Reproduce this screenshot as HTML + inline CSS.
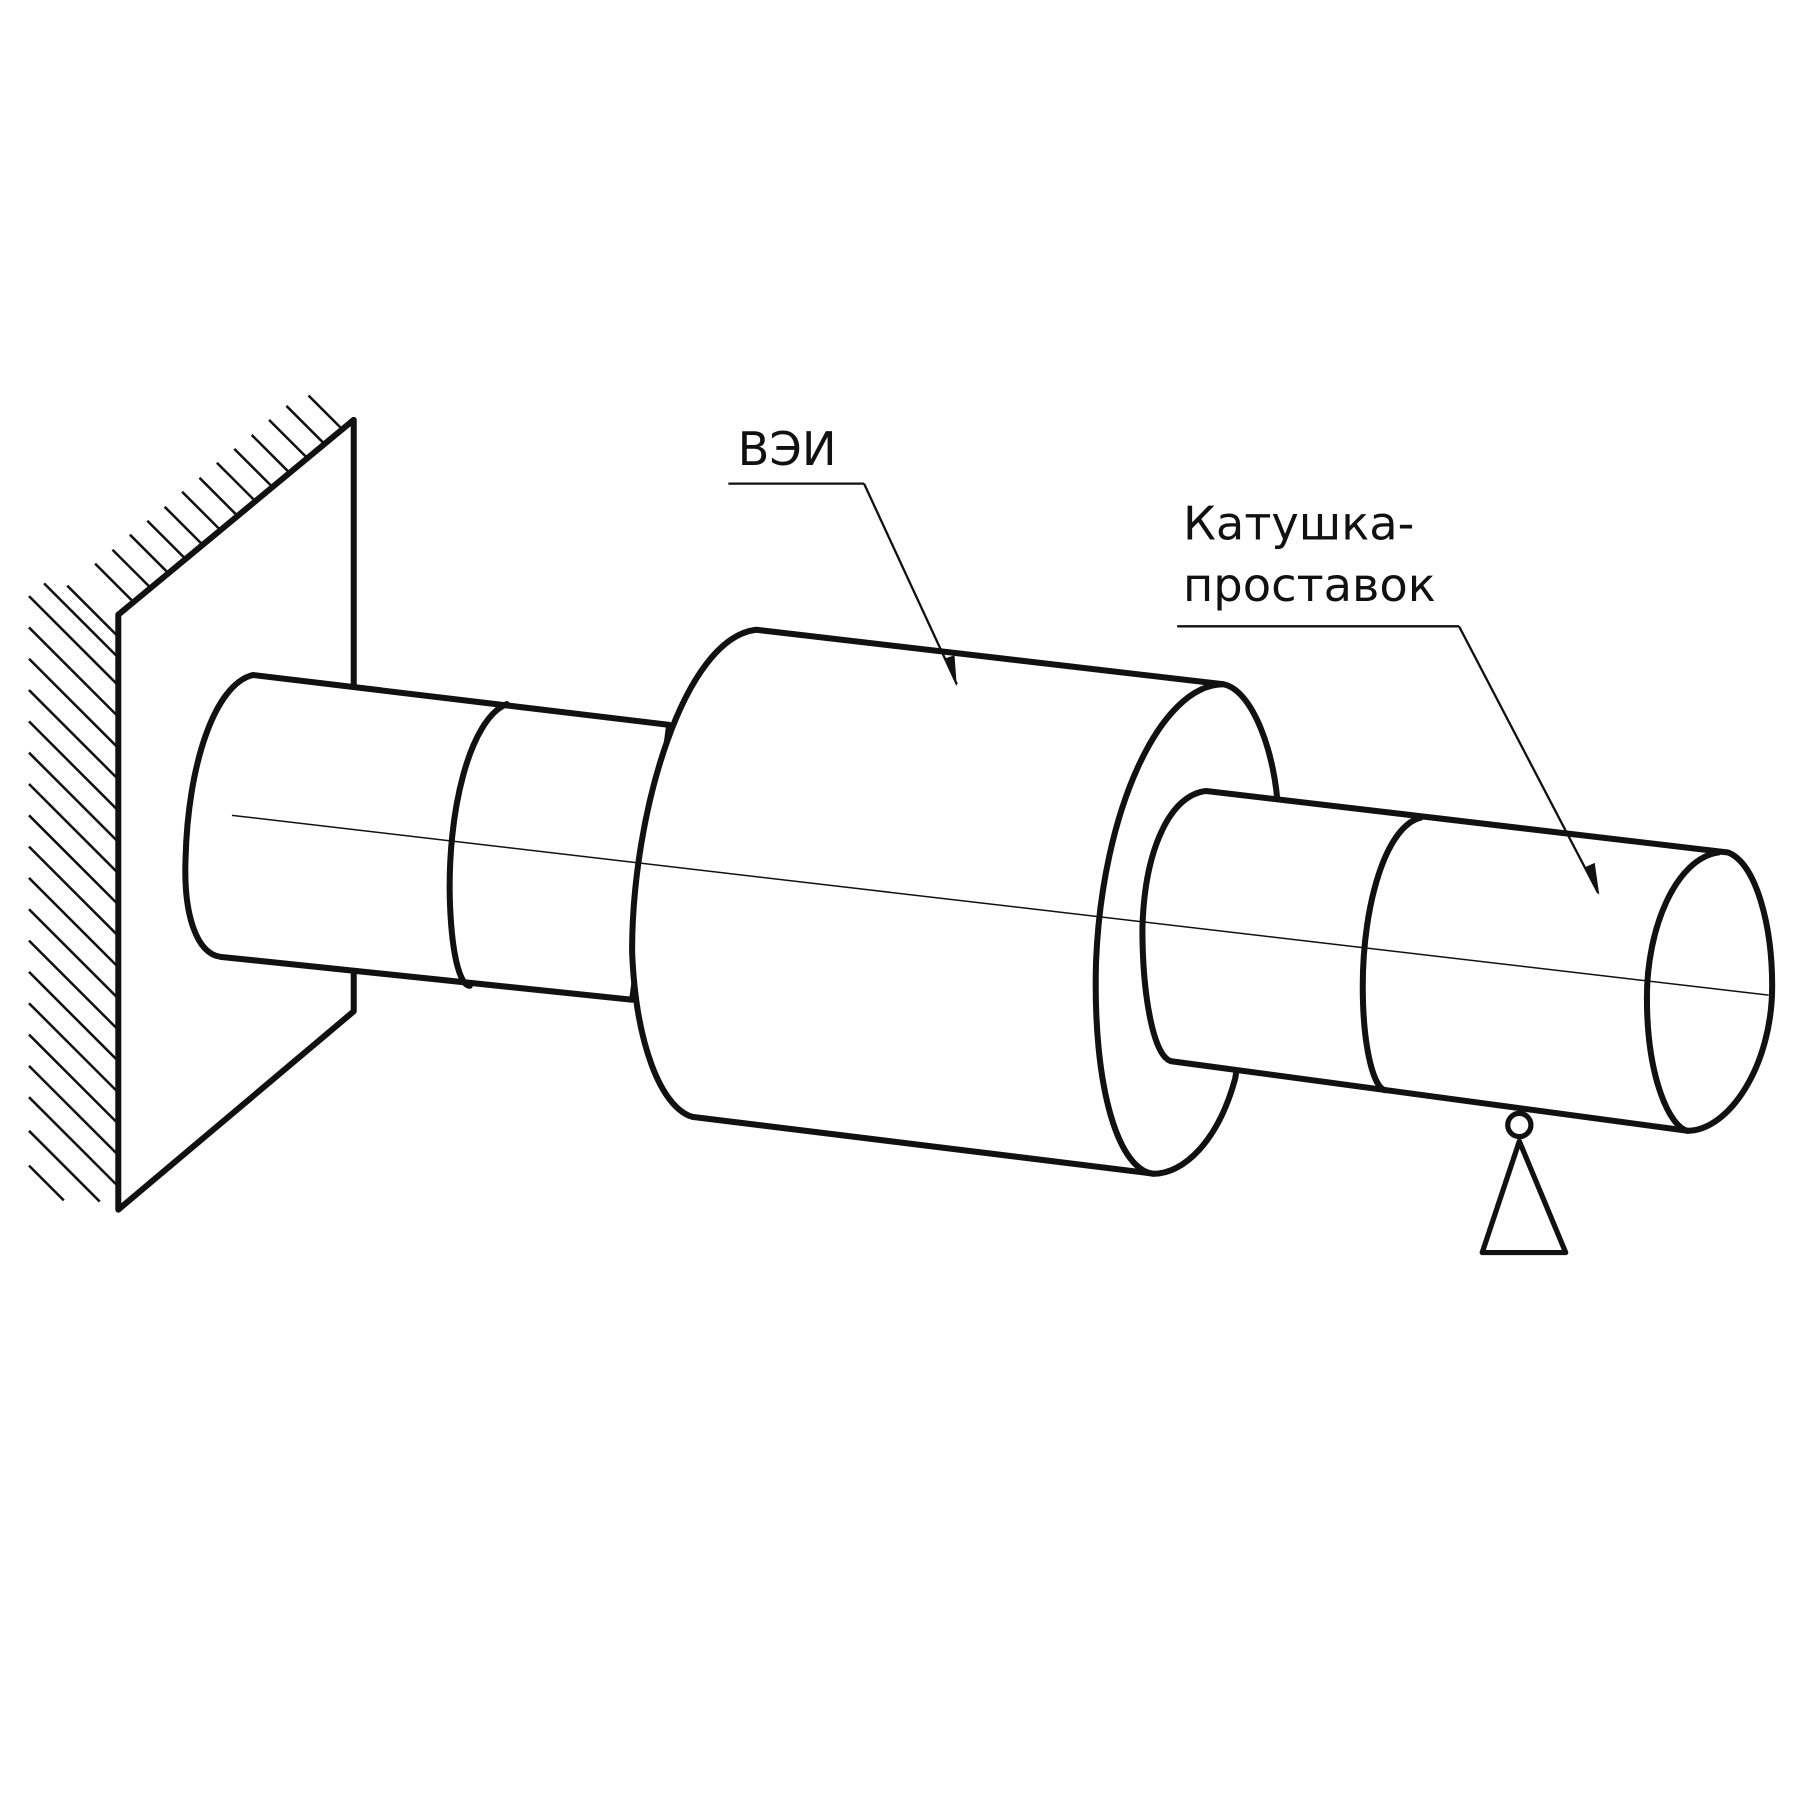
<!DOCTYPE html>
<html><head><meta charset="utf-8"><style>
html,body{margin:0;padding:0;background:#fff;}
svg{display:block;}
text{font-family:"DejaVu Sans","Liberation Sans",sans-serif;fill:#111;font-weight:500;}
</style></head><body>
<svg width="1800" height="1800" viewBox="0 0 1552 1552" xmlns="http://www.w3.org/2000/svg">
<rect width="1552" height="1552" fill="#fff"/>
<g stroke="#111" stroke-width="2.2">
<line x1="82" y1="486" x2="115" y2="519"/>
<line x1="97" y1="474" x2="130" y2="507"/>
<line x1="112" y1="461" x2="145" y2="494"/>
<line x1="127" y1="449" x2="160" y2="482"/>
<line x1="142" y1="437" x2="175" y2="470"/>
<line x1="157" y1="424" x2="190" y2="457"/>
<line x1="172" y1="412" x2="205" y2="445"/>
<line x1="187" y1="399" x2="220" y2="432"/>
<line x1="202" y1="387" x2="235" y2="420"/>
<line x1="217" y1="375" x2="250" y2="408"/>
<line x1="232" y1="362" x2="265" y2="395"/>
<line x1="247" y1="350" x2="280" y2="383"/>
<line x1="266" y1="341" x2="295" y2="370"/>
<line x1="58" y1="505" x2="102" y2="549"/>
<line x1="38" y1="503" x2="102" y2="567"/>
<line x1="25" y1="514" x2="102" y2="591"/>
<line x1="25" y1="541" x2="102" y2="618"/>
<line x1="25" y1="568" x2="102" y2="645"/>
<line x1="25" y1="595" x2="102" y2="672"/>
<line x1="25" y1="622" x2="102" y2="699"/>
<line x1="25" y1="649" x2="102" y2="726"/>
<line x1="25" y1="676" x2="102" y2="753"/>
<line x1="25" y1="703" x2="102" y2="780"/>
<line x1="25" y1="730" x2="102" y2="807"/>
<line x1="25" y1="757" x2="102" y2="834"/>
<line x1="25" y1="784" x2="102" y2="861"/>
<line x1="25" y1="811" x2="102" y2="888"/>
<line x1="25" y1="838" x2="102" y2="915"/>
<line x1="25" y1="865" x2="102" y2="942"/>
<line x1="25" y1="892" x2="102" y2="969"/>
<line x1="25" y1="919" x2="102" y2="996"/>
<line x1="25" y1="946" x2="102" y2="1023"/>
<line x1="25" y1="975" x2="86" y2="1036"/>
<line x1="25" y1="1005" x2="55" y2="1035"/>
</g>
<g fill="none" stroke="#111" stroke-width="5.2" stroke-linejoin="round" stroke-linecap="round">
<path d="M102,1043 L102,530 L305,362 L305,872 L102,1043 Z" fill="#fff"/>
<path d="M218,582 L577,625 L545,862 L190,825 C170,822 158,790 160,740 C162,660 185,590 218,582 Z" fill="#fff"/>
<path d="M437,607 C405,620 385,700 388,780 C390,830 398,850 405,850"/>
<path d="M652,543 L1055,590 C1080,595 1100,650 1102,700 L1065,930 C1050,985 1020,1012 995,1012 L597,963 C570,955 548,900 545,820 C545,700 590,550 652,543 Z" fill="#fff"/>
<path d="M1055,590 C1000,590 950,700 945,830 C942,940 965,1010 995,1012"/>
<path d="M1040,682 L1490,735 C1515,745 1528,800 1528,850 C1528,920 1490,975 1455,975 L1010,915 C995,912 985,860 985,800 C987,730 1010,685 1040,682 Z" fill="#fff"/>
<path d="M1225,705 C1195,712 1175,780 1175,850 C1175,905 1185,940 1195,940"/>
<path d="M1482,735 C1445,740 1420,800 1420,860 C1420,930 1440,972 1455,975"/>
<circle cx="1310" cy="970" r="10" fill="#fff" stroke-width="4.5"/>
<path d="M1310,984 L1278,1080 L1350,1080 Z" fill="#fff" stroke-width="4.5"/>
</g>
<line x1="200" y1="703" x2="1525" y2="858" stroke="#111" stroke-width="1.3"/>
<text x="636" y="401" font-size="40">ВЭИ</text>
<text x="1020" y="465" font-size="40">Катушка-</text>
<text x="1020" y="518" font-size="40">проставок</text>
<g stroke="#111" stroke-width="2" fill="none">
<line x1="628" y1="417" x2="745" y2="417"/>
<line x1="745" y1="417" x2="825" y2="590"/>
<line x1="1015" y1="540" x2="1258" y2="540"/>
<line x1="1258" y1="540" x2="1378" y2="770"/>
</g>
<path d="M825,592 L814,568 L823,565 Z" fill="#111"/>
<path d="M1379,772 L1366,748 L1375,744 Z" fill="#111"/>
</svg>
</body></html>
